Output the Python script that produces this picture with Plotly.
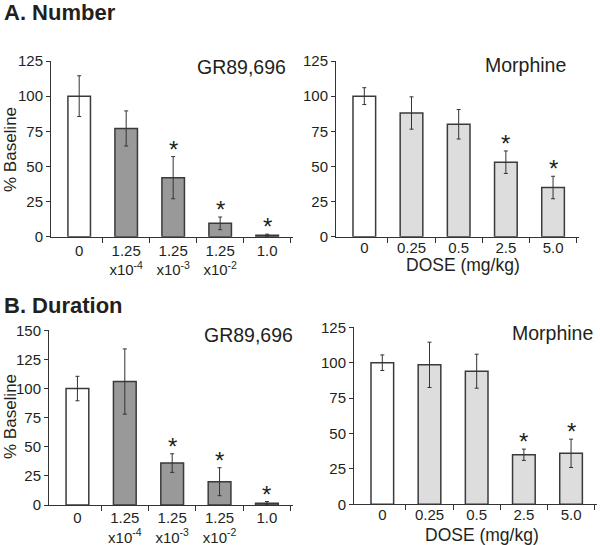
import plotly.graph_objects as go

# ---------------- data ----------------
gr_labels = ["0", "1.25<br>x10<sup>-4</sup>", "1.25<br>x10<sup>-3</sup>",
             "1.25<br>x10<sup>-2</sup>", "1.0"]
morph_labels = ["0", "0.25", "0.5", "2.5", "5.0"]

num_gr_mean = [100, 77, 42, 9.5, 1.0]
num_gr_err = [14.5, 12.5, 15, 4.5, 0.8]
num_gr_sig = [False, False, True, True, True]

num_mor_mean = [100, 88, 80, 53, 35]
num_mor_err = [6, 11.5, 10.5, 8, 8]
num_mor_sig = [False, False, False, True, True]

dur_gr_mean = [100, 106, 36, 20, 1.5]
dur_gr_err = [10.5, 28, 8, 12, 1.5]
dur_gr_sig = [False, False, True, True, True]

dur_mor_mean = [100, 98.5, 94, 35, 36]
dur_mor_err = [5.5, 16, 12, 4, 10]
dur_mor_sig = [False, False, False, True, True]

W, H = 600, 545
FONT = "Liberation Sans, Arial, sans-serif"
TXT = "#231f20"
EDGE = "#3a3a3a"
DARK = "#999999"
LIGHT = "#dddddd"

panels = [
    # (means, errs, sig, labels, fill, x px, y px, ymax, label standoff)
    (num_gr_mean, num_gr_err, num_gr_sig, gr_labels, DARK, (51, 293), (61, 236.7), 125, 0),
    (num_mor_mean, num_mor_err, num_mor_sig, morph_labels, LIGHT, (336, 579), (61, 236.7), 125, -3),
    (dur_gr_mean, dur_gr_err, dur_gr_sig, gr_labels, DARK, (49, 293), (330.3, 505), 150, -1),
    (dur_mor_mean, dur_mor_err, dur_mor_sig, morph_labels, LIGHT, (354, 597), (327.3, 504.3), 125, -3),
]

fig = go.Figure()
layout = dict(
    width=W, height=H, margin=dict(l=0, r=0, t=0, b=0, autoexpand=False),
    paper_bgcolor="white", plot_bgcolor="white", showlegend=False,
    font=dict(family=FONT, color=TXT, size=15),
)
annotations = []

for i, (mean, err, sig, labels, fill, (x0, x1), (yt, yb), ymax, stand) in enumerate(panels):
    n = i + 1
    xa = "x" if n == 1 else f"x{n}"
    ya = "y" if n == 1 else f"y{n}"
    xs = list(range(len(mean)))
    colors = ["white"] + [fill] * (len(mean) - 1)
    fig.add_trace(go.Bar(
        x=xs, y=mean, xaxis=xa, yaxis=ya,
        marker=dict(color=colors, line=dict(color=EDGE, width=1.5)),
        error_y=dict(type="data", array=err, visible=True, color="#333333",
                     thickness=1, width=2),
        width=0.48,
    ))
    for xv, m, e, s in zip(xs, mean, err, sig):
        if s:
            annotations.append(dict(
                x=xv, y=m + e, xref=xa, yref=ya, text="*", showarrow=False,
                font=dict(size=24, color=TXT, family=FONT),
                yanchor="bottom", yshift=-8,
            ))
    xkey = "xaxis" if n == 1 else f"xaxis{n}"
    ykey = "yaxis" if n == 1 else f"yaxis{n}"
    layout[xkey] = dict(
        domain=[x0 / W, x1 / W], anchor=ya, range=[-0.6, 4.55],
        tickvals=xs, ticktext=labels, ticks="", ticklabelstandoff=stand,
        minor=dict(tickvals=[0.5, 1.5, 2.5, 3.5, 4.5], ticks="outside",
                   ticklen=5, tickcolor="#333333", tickwidth=1),
        showline=True, linecolor="#333333", linewidth=1,
        showgrid=False, zeroline=False, fixedrange=True, automargin=False,
        tickfont=dict(size=15, color=TXT),
    )
    layout[ykey] = dict(
        domain=[1 - yb / H, 1 - yt / H], anchor=xa, range=[0, ymax],
        tickvals=list(range(0, ymax + 1, 25)), ticks="outside", ticklen=4,
        tickcolor="#333333", showline=True, linecolor="#333333", linewidth=1,
        showgrid=False, zeroline=False, fixedrange=True, automargin=False,
        tickfont=dict(size=15, color=TXT),
    )

def paper_text(text, x, y, size, bold=False, xanchor="center", angle=0):
    annotations.append(dict(
        x=x / W, y=1 - y / H, xref="paper", yref="paper", text=text,
        showarrow=False, xanchor=xanchor, yanchor="middle", textangle=angle,
        borderpad=0,
        font=dict(size=size, color=TXT, family=FONT,
                  weight="bold" if bold else "normal"),
    ))

paper_text("A. Number", 3, 12, 22, bold=True, xanchor="left")
paper_text("B. Duration", 3, 305, 22, bold=True, xanchor="left")
paper_text("GR89,696", 287, 67, 19.5, xanchor="right")
paper_text("Morphine", 567, 65, 19.5, xanchor="right")
paper_text("GR89,696", 294, 335, 19.5, xanchor="right")
paper_text("Morphine", 594, 333, 19.5, xanchor="right")
paper_text("% Baseline", 10, 150, 17, angle=-90)
paper_text("% Baseline", 10, 417, 17, angle=-90)
paper_text("DOSE (mg/kg)", 463, 265, 17.5)
paper_text("DOSE (mg/kg)", 482, 535, 17.5)

layout["annotations"] = annotations
fig.update_layout(**layout)
fig.write_html(
    "out.html",
    config={"displayModeBar": False},
    post_script="document.body.style.margin='0';document.body.style.overflow='hidden';",
)
